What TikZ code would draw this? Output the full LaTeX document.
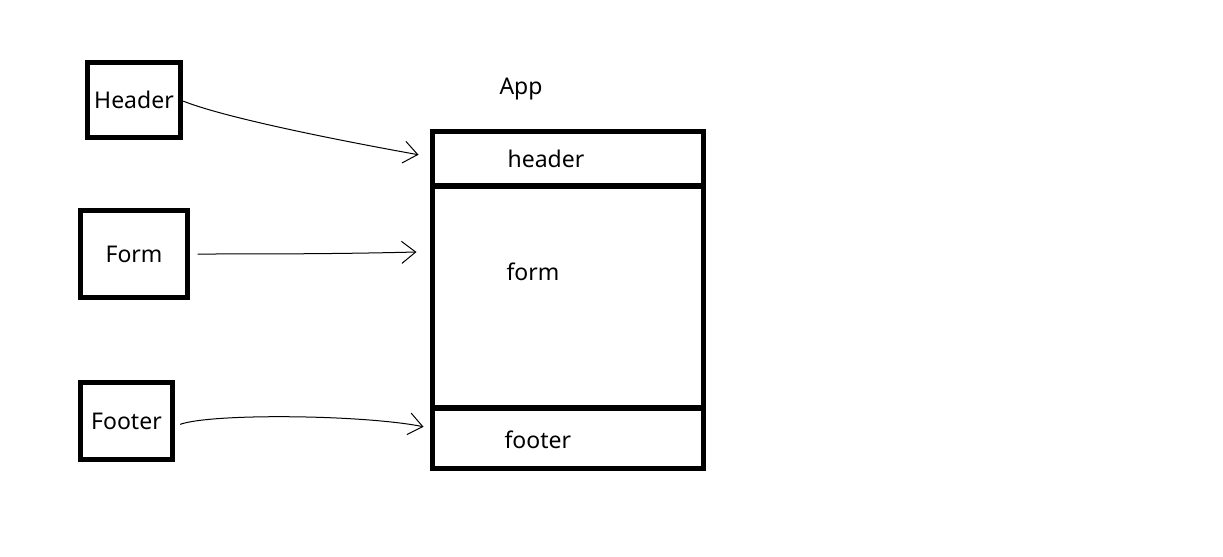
\documentclass[tikz,border=0pt]{standalone}
\usepackage{fontspec}
\setmainfont{Noto Sans}
\usetikzlibrary{arrows.meta,positioning}

\begin{document}
\begin{tikzpicture}[
        x=0.5pt, y=-0.5pt,
        comp/.style={rectangle, draw, line width=2.75pt, outer sep=0pt},
        part/.style={rectangle, draw, line width=2.75pt, outer sep=0pt, minimum width=135.5pt, inner sep=0pt},
        link/.style={line width=0.5pt, -{Straight Barb[length=7pt, width=11pt]}},
        font=\fontsize{11.5}{13}\selectfont
    ]
    \useasboundingbox (0,0) rectangle (1223,557);

    % components on the left
    \node[comp, minimum width=44.5pt, minimum height=37.5pt] (Header) at (134,100) {Header};
    \node[comp, minimum width=53.5pt, minimum height=43.5pt] (Form) at (134,254) {Form};
    \node[comp, minimum width=46pt, minimum height=38.5pt] (Footer) at (126.5,421) {Footer};

    % the app and its parts
    \node[part, minimum height=27.25pt] (hdr) at (568,158.75) {};
    \node[part, minimum height=111pt, below=0pt of hdr] (frm) {};
    \node[part, minimum height=30.25pt, below=0pt of frm] (ftr) {};

    \node (app) at (521,89) {App};
    \node[right=34pt of hdr.west] (hdrtext) {header};
    \node[right=33.5pt of frm.west, yshift=12.5pt] (frmtext) {form};
    \node[right=32.5pt of ftr.west, yshift=-1pt] (ftrtext) {footer};

    \draw[link, shorten <=1.5pt] (Header.east) .. controls +(40,16) and +(-100,-18) .. ([xshift=-7pt,yshift=2pt]hdr.west);
    \draw[link, shorten <=5pt] (Form.east) .. controls +(80,0) and +(-80,2) .. ([xshift=-8pt,yshift=22.5pt]frm.west);
    \draw[link, shorten <=4pt] ([yshift=-3pt]Footer.east) .. controls +(40,-14) and +(-60,-12) .. ([xshift=-4.5pt,yshift=5.75pt]ftr.west);
\end{tikzpicture}
\end{document}
